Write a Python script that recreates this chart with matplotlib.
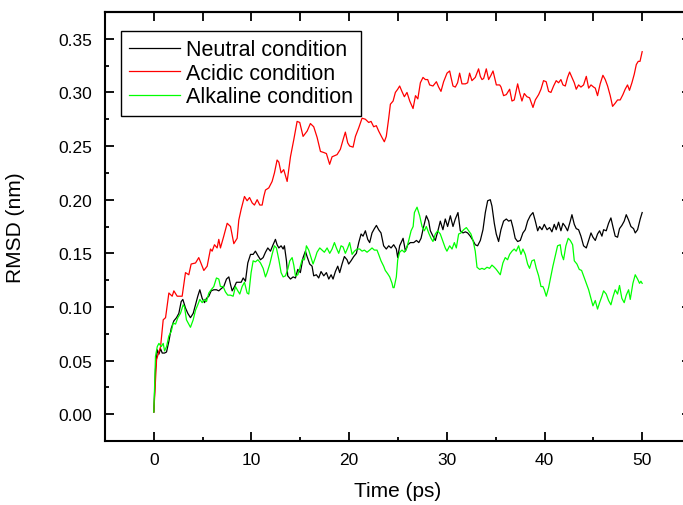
import matplotlib
matplotlib.use("Agg")
import matplotlib.pyplot as plt
from matplotlib.ticker import MultipleLocator

plt.rcParams['font.family'] = ['Liberation Sans', 'DejaVu Sans']

# (time in ps, RMSD in nm)
neutral = [(0, 0.002), (0.17, 0.042), (0.35, 0.060), (0.52, 0.056), (0.69, 0.061), (0.86, 0.057), (1.1, 0.057),
           (1.3, 0.058), (1.54, 0.068), (1.78, 0.080), (2.05, 0.087), (2.32, 0.090), (2.56, 0.094), (2.8, 0.105),
           (2.97, 0.107), (3.24, 0.099), (3.48, 0.094), (3.75, 0.090), (4.03, 0.094), (4.27, 0.102), (4.5, 0.110),
           (4.71, 0.116), (4.95, 0.108), (5.19, 0.104), (5.39, 0.108), (5.63, 0.110), (5.87, 0.115), (6.14, 0.116),
           (6.41, 0.116), (6.65, 0.115), (6.89, 0.117), (7.16, 0.119), (7.44, 0.126), (7.68, 0.128), (7.85, 0.121),
           (8.02, 0.115), (8.26, 0.119), (8.46, 0.123), (8.7, 0.123), (8.94, 0.123), (9.15, 0.127), (9.38, 0.124),
           (9.62, 0.141), (9.9, 0.149), (10.17, 0.149), (10.4, 0.152), (10.65, 0.148), (10.92, 0.144), (11.19, 0.146),
           (11.43, 0.151), (11.67, 0.155), (11.94, 0.152), (12.21, 0.158), (12.45, 0.163), (12.62, 0.158),
           (12.8, 0.155), (13.03, 0.157), (13.24, 0.154), (13.37, 0.157), (13.58, 0.143), (13.71, 0.129),
           (13.99, 0.126), (14.26, 0.128), (14.5, 0.127), (14.74, 0.135), (15.0, 0.132), (15.28, 0.146),
           (15.52, 0.152), (15.69, 0.147), (15.96, 0.140), (16.2, 0.138), (16.37, 0.129), (16.64, 0.130),
           (16.88, 0.127), (17.12, 0.133), (17.4, 0.129), (17.67, 0.132), (17.91, 0.126), (18.15, 0.130),
           (18.35, 0.126), (18.59, 0.133), (18.83, 0.138), (19.03, 0.132), (19.27, 0.140), (19.51, 0.147),
           (19.78, 0.144), (19.95, 0.140), (20.19, 0.143), (20.47, 0.147), (20.74, 0.150), (20.98, 0.160),
           (21.22, 0.168), (21.42, 0.166), (21.66, 0.171), (21.9, 0.163), (22.1, 0.160), (22.34, 0.169),
           (22.58, 0.173), (22.79, 0.176), (23.02, 0.172), (23.26, 0.169), (23.53, 0.157), (23.8, 0.154),
           (24.05, 0.157), (24.29, 0.155), (24.56, 0.158), (24.83, 0.154), (24.97, 0.146), (25.17, 0.157),
           (25.52, 0.164), (25.76, 0.152), (26.0, 0.158), (26.27, 0.160), (26.61, 0.160), (26.89, 0.162),
           (27.13, 0.160), (27.36, 0.164), (27.63, 0.175), (27.9, 0.185), (28.14, 0.180), (28.31, 0.171),
           (28.58, 0.166), (28.82, 0.162), (29.06, 0.170), (29.33, 0.180), (29.6, 0.172), (29.84, 0.182),
           (30.08, 0.175), (30.36, 0.185), (30.63, 0.175), (30.87, 0.182), (31.14, 0.188), (31.38, 0.171),
           (31.65, 0.169), (31.9, 0.170), (32.13, 0.169), (32.4, 0.166), (32.68, 0.162), (32.91, 0.158),
           (33.15, 0.157), (33.43, 0.162), (33.7, 0.172), (33.94, 0.188), (34.18, 0.199), (34.45, 0.200),
           (34.62, 0.194), (34.86, 0.178), (35.06, 0.168), (35.3, 0.161), (35.54, 0.172), (35.81, 0.180),
           (36.09, 0.182), (36.33, 0.180), (36.57, 0.181), (36.77, 0.174), (37.0, 0.164), (37.25, 0.161),
           (37.52, 0.162), (37.79, 0.169), (38.03, 0.172), (38.27, 0.180), (38.54, 0.185), (38.82, 0.188),
           (39.06, 0.180), (39.3, 0.171), (39.5, 0.175), (39.74, 0.172), (39.98, 0.177), (40.26, 0.172),
           (40.52, 0.174), (40.76, 0.170), (41.0, 0.177), (41.2, 0.172), (41.44, 0.179), (41.68, 0.171),
           (41.89, 0.178), (42.13, 0.175), (42.36, 0.171), (42.64, 0.180), (42.81, 0.186), (43.05, 0.177),
           (43.25, 0.173), (43.49, 0.172), (43.73, 0.166), (44.0, 0.157), (44.28, 0.155), (44.52, 0.162),
           (44.76, 0.169), (44.96, 0.165), (45.2, 0.162), (45.43, 0.168), (45.64, 0.171), (45.88, 0.166),
           (46.05, 0.172), (46.32, 0.171), (46.56, 0.178), (46.8, 0.183), (47.0, 0.175), (47.24, 0.166),
           (47.48, 0.165), (47.68, 0.173), (47.92, 0.176), (48.16, 0.180), (48.37, 0.186), (48.61, 0.181),
           (48.85, 0.175), (49.12, 0.173), (49.29, 0.169), (49.53, 0.172), (49.8, 0.182), (50.0, 0.188)]

acidic = [(0, 0.002), (0.28, 0.051), (0.69, 0.063), (0.96, 0.088), (1.2, 0.090), (1.54, 0.113), (1.88, 0.110),
          (2.05, 0.115), (2.39, 0.110), (2.9, 0.110), (3.24, 0.132), (3.58, 0.130), (3.82, 0.140), (4.27, 0.141),
          (4.6, 0.146), (5.12, 0.134), (5.46, 0.138), (5.8, 0.154), (5.97, 0.152), (6.21, 0.158), (6.48, 0.155),
          (6.65, 0.163), (6.82, 0.155), (7.16, 0.166), (7.51, 0.178), (7.85, 0.175), (8.19, 0.159), (8.53, 0.164),
          (8.7, 0.181), (8.94, 0.191), (9.28, 0.203), (9.55, 0.199), (9.8, 0.202), (10.07, 0.197), (10.3, 0.195),
          (10.58, 0.200), (10.85, 0.195), (11.09, 0.195), (11.26, 0.203), (11.43, 0.209), (11.77, 0.211),
          (12.11, 0.217), (12.35, 0.225), (12.62, 0.237), (12.8, 0.235), (13.03, 0.225), (13.3, 0.228),
          (13.65, 0.217), (13.99, 0.240), (14.33, 0.256), (14.67, 0.273), (14.94, 0.272), (15.28, 0.259),
          (15.7, 0.264), (16.03, 0.271), (16.37, 0.268), (16.72, 0.258), (17.06, 0.245), (17.4, 0.244),
          (17.67, 0.243), (18.0, 0.233), (18.25, 0.240), (18.76, 0.242), (19.1, 0.247), (19.38, 0.256),
          (19.61, 0.263), (19.85, 0.253), (20.05, 0.250), (20.4, 0.249), (20.64, 0.259), (20.98, 0.267),
          (21.32, 0.276), (21.66, 0.275), (22.0, 0.272), (22.24, 0.273), (22.51, 0.268), (22.78, 0.269),
          (23.02, 0.264), (23.36, 0.258), (23.6, 0.254), (23.8, 0.259), (24.05, 0.276), (24.22, 0.289),
          (24.5, 0.292), (24.73, 0.300), (24.97, 0.303), (25.17, 0.306), (25.4, 0.301), (25.65, 0.296),
          (25.92, 0.300), (26.2, 0.292), (26.54, 0.285), (26.79, 0.297), (27.03, 0.294), (27.29, 0.309),
          (27.56, 0.314), (27.8, 0.312), (28.04, 0.312), (28.24, 0.307), (28.58, 0.306), (28.93, 0.310),
          (29.16, 0.305), (29.4, 0.301), (29.67, 0.310), (30.02, 0.318), (30.29, 0.320), (30.43, 0.314),
          (30.63, 0.306), (30.87, 0.305), (31.1, 0.309), (31.31, 0.318), (31.55, 0.308), (31.9, 0.308),
          (32.13, 0.309), (32.33, 0.318), (32.57, 0.311), (32.91, 0.314), (33.25, 0.322), (33.43, 0.315),
          (33.6, 0.312), (33.77, 0.313), (34.04, 0.322), (34.28, 0.312), (34.52, 0.316), (34.73, 0.320),
          (35.07, 0.307), (35.41, 0.307), (35.55, 0.305), (35.81, 0.297), (36.09, 0.298), (36.43, 0.303),
          (36.67, 0.292), (36.9, 0.293), (37.25, 0.308), (37.45, 0.300), (37.69, 0.292), (37.93, 0.299),
          (38.2, 0.296), (38.47, 0.295), (38.82, 0.286), (39.06, 0.293), (39.4, 0.298), (39.64, 0.303),
          (39.9, 0.311), (40.17, 0.310), (40.42, 0.301), (40.66, 0.300), (40.93, 0.306), (41.2, 0.311),
          (41.44, 0.309), (41.68, 0.312), (41.89, 0.307), (42.13, 0.306), (42.36, 0.314), (42.57, 0.319),
          (42.81, 0.314), (43.05, 0.309), (43.25, 0.303), (43.49, 0.307), (43.73, 0.305), (44.0, 0.307),
          (44.28, 0.315), (44.52, 0.304), (44.76, 0.307), (45.03, 0.305), (45.2, 0.304), (45.43, 0.297),
          (45.7, 0.308), (45.98, 0.316), (46.22, 0.312), (46.46, 0.306), (46.73, 0.297), (46.97, 0.287),
          (47.24, 0.290), (47.48, 0.293), (47.75, 0.293), (48.03, 0.298), (48.26, 0.303), (48.5, 0.307),
          (48.7, 0.302), (48.95, 0.309), (49.19, 0.317), (49.4, 0.326), (49.6, 0.329), (49.78, 0.329),
          (50.0, 0.338)]

alkaline = [(0, 0.002), (0.17, 0.054), (0.35, 0.063), (0.52, 0.066), (0.76, 0.063), (0.96, 0.066), (1.1, 0.059),
            (1.3, 0.063), (1.54, 0.073), (1.78, 0.077), (1.98, 0.085), (2.22, 0.084), (2.46, 0.090), (2.73, 0.094),
            (3.0, 0.102), (3.14, 0.100), (3.34, 0.088), (3.58, 0.084), (3.75, 0.081), (4.03, 0.088), (4.27, 0.097),
            (4.5, 0.102), (4.71, 0.107), (4.95, 0.104), (5.19, 0.107), (5.39, 0.105), (5.63, 0.113), (5.87, 0.116),
            (6.14, 0.119), (6.41, 0.127), (6.65, 0.126), (6.82, 0.119), (7.1, 0.119), (7.33, 0.114), (7.57, 0.111),
            (7.85, 0.111), (8.12, 0.110), (8.36, 0.119), (8.6, 0.115), (8.8, 0.112), (9.04, 0.119), (9.28, 0.123),
            (9.55, 0.113), (9.72, 0.112), (9.96, 0.132), (10.17, 0.143), (10.4, 0.142), (10.65, 0.144),
            (10.92, 0.141), (11.19, 0.136), (11.43, 0.128), (11.6, 0.132), (11.87, 0.140), (12.11, 0.149),
            (12.35, 0.157), (12.55, 0.155), (12.8, 0.144), (13.03, 0.132), (13.24, 0.128), (13.48, 0.129),
            (13.71, 0.135), (13.92, 0.143), (14.16, 0.146), (14.33, 0.139), (14.5, 0.129), (14.74, 0.130),
            (14.94, 0.136), (15.18, 0.144), (15.42, 0.144), (15.62, 0.157), (15.86, 0.153), (16.1, 0.146),
            (16.3, 0.140), (16.54, 0.146), (16.71, 0.151), (16.99, 0.155), (17.23, 0.153), (17.46, 0.151),
            (17.74, 0.155), (18.01, 0.150), (18.25, 0.154), (18.49, 0.160), (18.69, 0.155), (18.93, 0.150),
            (19.17, 0.157), (19.37, 0.156), (19.61, 0.150), (19.85, 0.155), (20.05, 0.160), (20.3, 0.149),
            (20.54, 0.152), (20.81, 0.154), (21.08, 0.154), (21.32, 0.152), (21.56, 0.153), (21.83, 0.151),
            (22.1, 0.153), (22.34, 0.155), (22.58, 0.153), (22.85, 0.153), (23.02, 0.149), (23.26, 0.143),
            (23.53, 0.138), (23.7, 0.134), (23.94, 0.131), (24.15, 0.128), (24.39, 0.122), (24.49, 0.118),
            (24.6, 0.118), (24.83, 0.128), (24.97, 0.144), (25.17, 0.151), (25.41, 0.153), (25.65, 0.151),
            (25.86, 0.154), (26.1, 0.162), (26.34, 0.171), (26.55, 0.175), (26.68, 0.188), (26.95, 0.193),
            (27.22, 0.185), (27.46, 0.175), (27.7, 0.171), (27.9, 0.175), (28.14, 0.169), (28.38, 0.164),
            (28.58, 0.161), (28.82, 0.168), (29.06, 0.171), (29.33, 0.168), (29.6, 0.161), (29.84, 0.155),
            (30.01, 0.152), (30.29, 0.157), (30.53, 0.154), (30.77, 0.160), (30.97, 0.155), (31.21, 0.168),
            (31.45, 0.169), (31.72, 0.172), (32.0, 0.174), (32.23, 0.171), (32.47, 0.168), (32.68, 0.162),
            (32.91, 0.152), (33.09, 0.137), (33.36, 0.135), (33.6, 0.136), (33.84, 0.135), (34.11, 0.137),
            (34.38, 0.136), (34.62, 0.139), (34.86, 0.137), (35.06, 0.135), (35.3, 0.132), (35.47, 0.130),
            (35.74, 0.141), (35.98, 0.146), (36.22, 0.144), (36.43, 0.149), (36.67, 0.152), (36.9, 0.154),
            (37.1, 0.152), (37.35, 0.157), (37.59, 0.149), (37.79, 0.154), (38.03, 0.149), (38.27, 0.140),
            (38.47, 0.136), (38.71, 0.143), (38.95, 0.144), (39.16, 0.136), (39.4, 0.129), (39.64, 0.119),
            (39.84, 0.119), (39.98, 0.116), (40.18, 0.110), (40.42, 0.118), (40.66, 0.129), (40.86, 0.138),
            (41.17, 0.150), (41.34, 0.157), (41.61, 0.158), (41.75, 0.149), (41.95, 0.144), (42.19, 0.157),
            (42.43, 0.164), (42.64, 0.162), (42.88, 0.158), (43.05, 0.143), (43.32, 0.140), (43.56, 0.135),
            (43.8, 0.134), (44.0, 0.129), (44.28, 0.122), (44.52, 0.116), (44.76, 0.108), (44.96, 0.101),
            (45.2, 0.106), (45.43, 0.098), (45.64, 0.104), (45.88, 0.110), (46.05, 0.115), (46.32, 0.112),
            (46.56, 0.106), (46.8, 0.102), (47.0, 0.109), (47.24, 0.116), (47.48, 0.112), (47.68, 0.120),
            (47.92, 0.108), (48.16, 0.104), (48.37, 0.111), (48.61, 0.116), (48.78, 0.107), (49.05, 0.122),
            (49.29, 0.130), (49.53, 0.126), (49.73, 0.122), (49.87, 0.124), (50.0, 0.122)]

series = [(neutral, "black", "Neutral condition"),
          (acidic, "#ff0000", "Acidic condition"),
          (alkaline, "#00ff00", "Alkaline condition")]

fig = plt.figure(figsize=(6.83, 5.06), dpi=100)
ax = fig.add_axes([105 / 683, 64 / 506, 586 / 683, 429 / 506])

for points, color, label in series:
    t = [p[0] for p in points]
    v = [p[1] for p in points]
    ax.plot(t, v, color=color, lw=0.9, label=label)

ax.set_xlim(-5, 55)
ax.set_ylim(-0.025, 0.375)

ax.xaxis.set_major_locator(MultipleLocator(10))
ax.xaxis.set_minor_locator(MultipleLocator(5))
ax.yaxis.set_major_locator(MultipleLocator(0.05))
ax.yaxis.set_minor_locator(MultipleLocator(0.025))
ax.yaxis.set_major_formatter(matplotlib.ticker.FormatStrFormatter('%.2f'))

ax.tick_params(which='both', direction='in', width=1.3, labelsize=12.5)
ax.tick_params(which='major', length=6.5)
ax.tick_params(which='minor', length=3)
ax.tick_params(axis='x', pad=8)
ax.tick_params(axis='y', pad=9)

for s in ax.spines.values():
    s.set_linewidth(1.5)

# top and right axes: ticks only
top = ax.secondary_xaxis('top')
top.xaxis.set_major_locator(MultipleLocator(5))
top.tick_params(direction='in', length=6.5, width=1.3, labeltop=False)
top.spines['top'].set_linewidth(1.5)
right = ax.secondary_yaxis('right')
right.yaxis.set_major_locator(MultipleLocator(0.05))
right.tick_params(direction='in', length=6.5, width=1.3, labelright=False)
right.spines['right'].set_linewidth(1.5)

ax.set_xlabel("Time (ps)", fontsize=15)
ax.set_ylabel("RMSD (nm)", fontsize=15)
ax.xaxis.set_label_coords(0.5, -0.093)
ax.yaxis.set_label_coords(-0.1365, 0.5)

leg = ax.legend(loc='upper left', bbox_to_anchor=(15.7 / 586, 410.3 / 429), fontsize=15.5,
                fancybox=False, framealpha=1, edgecolor='black', borderaxespad=0,
                borderpad=0.4, handlelength=2.35, handletextpad=0.27, labelspacing=0.12)
leg.get_frame().set_linewidth(1.0)

fig.savefig("out.png", dpi=100)
